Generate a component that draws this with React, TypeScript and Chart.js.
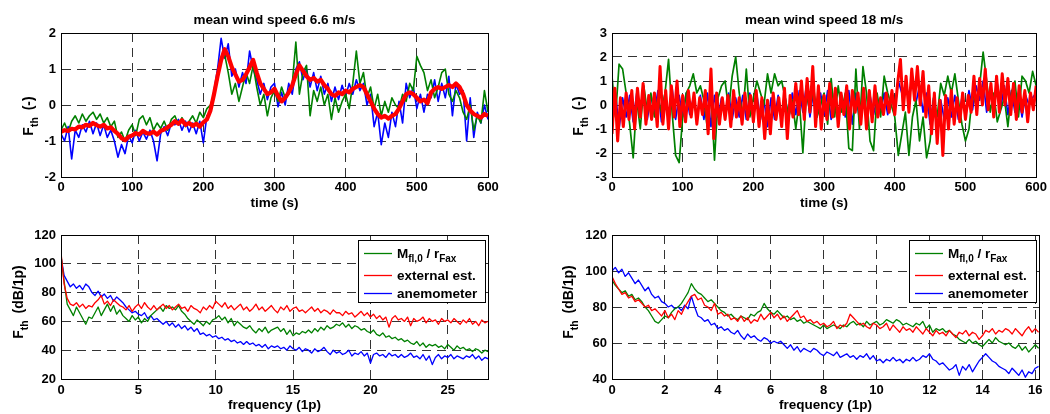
import React, { useEffect, useRef } from "react";
import { Chart, registerables } from "chart.js";

Chart.register(...registerables);

const FONT = "'Liberation Sans', Arial, Helvetica, sans-serif";
const GREEN = "#008000";
const RED = "#ff0000";
const BLUE = "#0000ff";
const GRID = "#333333";

// ---------------- data ----------------
// top-left: mean wind speed 6.6 m/s, samples every 5 s (0..600 s)
const LOW_TIME_STEP = 5;
const lowWindGreen = [
  -0.70, -0.50, -0.75, -0.45, -0.30, -0.50, -0.25, -0.45, -0.30, -0.20,
  -0.40, -0.25, -0.50, -0.35, -0.60, -0.45, -0.90, -0.75, -1.00, -0.70,
  -0.55, -0.85, -0.40, -0.30, -0.55, -0.35, -0.70, -0.50, -0.65, -0.45,
  -0.70, -0.40, -0.30, -0.55, -0.35, -0.60, -0.45, -0.30, -0.50, -0.20,
  -0.35, -0.10, 0.00, 0.30, 0.70, 1.30, 1.40, 0.90, 0.30, 0.60,
  0.10, 0.50, 0.90, 0.60, 1.10, 0.50, 0.00, 0.30, -0.30, 0.20,
  0.40, 0.10, 0.50, 0.20, 0.30, 0.60, 1.75, 0.30, 0.90, 1.10,
  -0.30, 0.40, 0.10, 0.50, 0.00, 0.30, -0.40, 0.20, -0.20, 0.10,
  0.30, -0.10, 0.60, 1.50, 0.60, 0.90, 0.20, 0.50, -0.10, 0.30,
  -0.30, 0.10, -0.20, 0.20, 0.00, -0.10, 0.30, 0.10, 0.60, 0.40,
  1.35, 1.10, 0.90, 0.40, 0.70, 0.20, 0.50, 0.90, 1.00, 0.30,
  0.10, 0.40, 0.20, -0.20, -0.40, 0.00, -0.70, -0.30, -0.50, 0.40,
  -0.20,
];
const lowWindRed = [
  -0.75, -0.70, -0.72, -0.66, -0.68, -0.60, -0.62, -0.55, -0.58, -0.50,
  -0.56, -0.60, -0.55, -0.65, -0.62, -0.72, -0.80, -0.92, -0.98, -0.88,
  -0.85, -0.78, -0.82, -0.72, -0.78, -0.80, -0.74, -0.82, -0.72, -0.68,
  -0.62, -0.55, -0.45, -0.52, -0.42, -0.55, -0.50, -0.58, -0.52, -0.60,
  -0.48, -0.40, -0.15, 0.30, 0.80, 1.25, 1.55, 1.35, 1.05, 0.85,
  0.65, 0.70, 0.85, 1.05, 1.25, 0.90, 0.60, 0.45, 0.30, 0.35,
  0.45, 0.25, 0.10, 0.20, 0.35, 0.55, 0.85, 1.10, 0.95, 0.80,
  0.70, 0.75, 0.65, 0.70, 0.55, 0.45, 0.30, 0.25, 0.35, 0.30,
  0.40, 0.35, 0.45, 0.50, 0.55, 0.50, 0.30, 0.10, -0.10, -0.25,
  -0.35, -0.30, -0.38, -0.30, -0.25, -0.10, 0.10, 0.30, 0.35, 0.30,
  0.20, 0.10, 0.15, 0.05, 0.35, 0.45, 0.50, 0.45, 0.50, 0.55,
  0.50, 0.60, 0.50, 0.30, 0.00, -0.15, -0.25, -0.30, -0.35, -0.25,
  -0.30,
];
const lowWindBlue = [
  -0.80, -1.00, -0.60, -1.50, -0.70, -0.90, -0.55, -0.75, -0.45, -0.80,
  -0.50, -0.85, -0.55, -0.90, -0.70, -1.00, -1.45, -1.10, -1.35, -0.85,
  -1.05, -0.70, -1.00, -0.75, -0.95, -0.70, -1.00, -1.55, -0.80, -0.60,
  -0.85, -0.50, -0.55, -0.40, -0.70, -0.45, -0.75, -0.50, -0.80, -0.45,
  -1.05, -0.30, -0.20, 0.40, 1.00, 1.85, 1.30, 1.70, 0.80, 1.00,
  0.50, 0.90, 0.60, 1.50, 1.00, 0.70, 0.30, 0.60, 0.15, 0.50,
  0.60, -0.05, 0.35, 0.00, 0.60, 0.30, 1.00, 1.20, 0.70, 1.00,
  0.50, 0.90, 0.40, 0.80, 0.30, 0.60, 0.10, 0.50, 0.15, 0.55,
  0.25, 0.60, 0.30, 0.70, 0.40, 0.60, 0.00, 0.30, -0.60, -0.20,
  -1.10, -0.50, -0.90, -0.20, -0.60, 0.10, -0.50, 0.60, 0.20, 0.50,
  -0.10, 0.30, -0.20, 0.30, 0.20, 0.70, 0.10, 0.60, 0.20, 0.80,
  -0.30, 0.60, 0.30, 0.40, -1.00, 0.20, -0.90, -0.20, -0.50, 0.00,
  -0.40,
];

// top-right: mean wind speed 18 m/s
const HIGH_TIME_STEP = 5;
const HIGH_TIME_STEP_RED = 4;
const highWindGreen = [
  1.2, -0.5, 1.7, 1.5, 0.5, -0.8, -2.2, 0.2, -1.0, 0.8,
  -0.3, 0.5, -0.5, 0.3, -0.3, 0.5, 1.9, -0.3, -2.1, -2.4,
  -0.5, 0.5, 0.8, 1.3, 0.5, 0.8, 0.2, -1.0, 0.5, -2.3,
  0.3, 0.8, 1.0, -0.2, 1.2, 2.0, 0.5, -0.5, 1.5, -0.5,
  0.3, 1.0, 0.5, 0.0, 1.3, 0.5, 1.3, 0.8, 1.0, 0.3,
  -0.5, 0.2, -1.0, 0.2, -2.0, 0.5, -0.3, 0.8, -0.5, 0.0,
  0.5, -0.8, 1.1, -0.5, 0.8, -0.3, 0.5, -1.8, -1.9, 1.5,
  -1.0, 1.6, 0.5, -1.5, -1.9, 0.5, -0.5, 1.2, 0.5, 0.0,
  -0.5, -2.1, -1.2, -0.3, -2.1, -0.5, 0.2, -1.5, -0.5, -2.2,
  -1.5, 0.3, -0.5, 0.9, 0.4, 1.2, 0.5, 1.3, 0.2, -0.8,
  -1.5, -1.0, 0.5, 0.0, 0.8, 2.2, 1.0, -0.3, 0.5, -0.7,
  -0.2, 0.3, -0.9, 0.5, 1.0, -0.5, 1.2, 1.0, 0.5, 1.4,
  0.8,
];
const highWindRed = [
  -1.2, 0.7, -1.5, 0.3, -0.9, 0.5, -0.6, 0.6, -1.0, 0.7,
  -0.5, 0.9, -0.8, 0.4, -0.6, 0.5, -0.9, 1.6, -0.8, 0.6,
  -1.0, 0.8, -0.5, 1.0, -0.9, 0.4, -0.7, 0.6, -0.5, 0.5,
  -0.8, 0.3, -0.4, 0.6, -1.2, 1.5, -1.4, 0.5, -0.8, 0.3,
  -0.6, 0.4, -0.9, 0.6, -0.5, 0.3, -0.8, 0.5, -0.6, 0.4,
  -0.7, 0.6, -0.9, 0.3, -1.4, 0.2, -1.2, 0.5, -0.6, 0.3,
  -0.9, 0.7, -1.4, 0.4, -0.5, 0.9, -0.4, 1.0, -0.6, 1.1,
  -0.3, 1.6, -0.9, 0.8, -1.0, 0.4, -0.6, 0.9, -0.5, 0.7,
  -0.9, 0.5, -0.4, 0.8, -1.0, 0.6, -0.3, 0.5, -0.8, 0.7,
  -1.0, 0.6, -0.7, 0.8, -0.5, 0.3, -0.4, 0.5, -0.3, 0.6,
  -0.4, 0.9, 1.9, -0.2, 1.2, -0.3, 1.5, 0.2, 1.6, 0.0,
  1.4, -0.5, 0.8, -1.2, 0.5, -1.6, 0.2, -2.1, 0.4, -1.0,
  0.6, -0.8, 0.3, -0.7, 0.5, -0.6, 0.4, -0.3, 1.2, -0.4,
  1.1, 0.0, 1.5, -0.2, 0.9, -0.5, 1.2, -0.3, 1.3, 0.0,
  1.1, -0.4, 0.9, -0.6, 0.8, -0.3, 0.6, -0.7, 0.5, -0.2,
  0.8,
];
const highWindBlue = [
  -0.6, 0.5, -1.0, 0.3, -0.5, 0.4, -0.7, 0.5, -0.4, 0.6,
  -0.6, 0.4, -0.3, 0.6, -0.7, 0.5, -0.5, 0.7, -0.6, 0.4,
  -0.5, 0.5, -0.4, 0.3, -0.5, 0.4, -0.6, 0.5, -0.9, 0.4,
  -0.5, 0.3, -0.4, 0.5, -0.6, 0.3, -0.5, 0.4, -0.6, 0.5,
  -0.5, 0.4, -0.6, 0.2, -0.9, 0.3, -0.6, 0.4, -0.5, 0.3,
  -0.6, 0.5, -0.4, 0.6, -0.3, 0.8, -0.5, 0.6, -0.5, 0.5,
  -0.4, 0.6, -0.6, 0.5, -0.7, 0.4, -0.5, 0.6, -0.8, 0.5,
  -0.6, 0.5, -0.7, 0.4, -0.4, 0.3, -0.3, 0.5, -0.4, 0.4,
  -0.2, 1.0, 0.5, 0.8, 0.3, 1.0, 0.1, 0.8, -0.3, 0.5,
  -0.8, 0.3, -1.1, 0.2, -0.6, 0.3, -0.5, 0.4, -0.6, 0.3,
  -0.4, 0.6, -0.2, 0.8, 0.2, 1.0, -0.3, 0.7, -0.2, 0.9,
  -0.1, 0.8, -0.4, 0.6, -0.3, 0.5, -0.5, 0.4, 0.0, 0.3,
  0.5,
];

// bottom-left: spectra at 6.6 m/s, every 0.2 (1p) from 0 to 27.6
const LOW_FREQ_STEP = 0.2;
const lowSpecGreen = [
  106, 88, 72, 68, 64, 70, 66, 62, 58, 63,
  62, 66, 70, 64, 68, 72, 67, 71, 65, 68,
  64, 62, 60, 64, 61, 63, 59, 62, 60, 64,
  66, 68, 70, 67, 71, 69, 70, 68, 71, 67,
  65, 62, 60, 58, 61, 59, 57, 60, 58, 61,
  62, 64, 61, 63, 59, 62, 57, 60, 58, 56,
  55, 57, 54, 52, 55, 53, 56, 52, 54, 55,
  56, 53, 55, 51, 54, 50, 52, 51, 53, 52,
  54, 52, 55, 53, 56, 54, 57, 55, 56, 58,
  57, 59, 56, 58, 55, 57, 56, 54, 55, 53,
  52, 54, 51, 50, 52, 49, 50, 48, 49, 47,
  48, 46, 47, 45, 44, 46, 43, 45, 42, 44,
  43, 44, 42, 43, 41, 44, 42, 40, 43, 41,
  42, 40, 41, 39, 41, 40, 38, 40, 39,
];
const lowSpecRed = [
  108, 86, 76, 72, 71, 73, 70, 72, 69, 71,
  70, 73, 75, 78, 72, 74, 71, 75, 73, 71,
  70, 68, 71, 67, 70, 72, 69, 73, 70, 68,
  71, 68, 70, 72, 69, 71, 68, 70, 72, 69,
  70, 67, 71, 69, 68, 66, 70, 68, 71, 69,
  74, 72, 70, 73, 69, 71, 68, 70, 72, 68,
  70, 67, 69, 72, 68, 70, 67, 69, 71, 68,
  66, 70, 68, 71, 67, 69, 70, 67, 68, 66,
  68, 70, 67, 69, 66, 68, 67, 65, 68, 66,
  66, 64, 67, 65, 66, 63, 65, 67, 64, 66,
  63, 65, 62, 64, 61, 63, 56, 62, 64, 61,
  62, 60, 63, 57, 62, 60, 61, 63, 59, 62,
  60, 61, 58, 62, 60, 61, 59, 62, 60, 58,
  61, 59, 62, 58, 60, 57, 61, 59, 60,
];
const lowSpecBlue = [
  105, 92, 88, 84, 86, 83, 85, 82, 86, 84,
  80, 78, 81, 77, 79, 76, 78, 74, 77, 75,
  73, 70, 68, 66, 67, 65, 64, 66, 62, 64,
  61, 62, 60, 58, 60, 57, 59, 56, 58, 55,
  57, 54, 56, 53, 55, 51, 52, 50, 51, 49,
  50, 48, 49, 47, 48, 46, 47, 45, 46, 44,
  46, 44, 45, 43, 44, 42, 44, 41, 43, 42,
  43, 41, 42, 40, 43, 41, 40, 42, 39, 41,
  40, 38, 41, 39, 40, 42, 39, 37, 40, 38,
  39, 37, 38, 40, 36, 38, 37, 39, 36, 38,
  31, 37, 38, 36, 37, 35, 38, 36, 37, 35,
  37, 35, 36, 38, 35, 36, 34, 37, 33, 36,
  30, 35, 37, 34, 36, 35, 37, 34, 36, 35,
  34, 36, 35, 37, 34, 36, 33, 35, 34,
];

// bottom-right: spectra at 18 m/s, every 0.125 (1p) from 0 to 16.125
const HIGH_FREQ_STEP = 0.125;
const highSpecGreen = [
  95, 92, 90, 88, 89, 86, 87, 84, 85, 83,
  80, 78, 75, 72, 71, 73, 75, 74, 77, 79,
  80, 82, 85, 88, 93, 90, 88, 87, 85, 83,
  84, 82, 80, 78, 77, 75, 76, 74, 73, 75,
  74, 73, 76, 75, 77, 78, 82, 79, 77, 76,
  78, 76, 74, 75, 73, 74, 72, 73, 71, 72,
  71, 70, 69, 68, 70, 68, 69, 70, 69, 68,
  70, 69, 71, 72, 70, 71, 69, 72, 70, 71,
  72, 70, 71, 73, 72, 71, 73, 72, 70, 71,
  70, 69, 71, 70, 72, 68, 70, 66, 68, 67,
  68, 66, 67, 65, 64, 62, 61, 60, 62, 60,
  61, 59, 58, 60, 62, 60, 63, 61, 60, 59,
  60, 58, 57, 59, 56, 58, 55, 57, 59, 57,
];
const highSpecRed = [
  97, 93, 90, 87, 88, 85, 86, 83, 84, 82,
  80, 81, 78, 79, 77, 75, 78, 74, 76, 73,
  78, 76, 80, 83, 86, 87, 84, 85, 81, 80,
  78, 82, 76, 77, 75, 76, 73, 74, 72, 75,
  72, 74, 71, 73, 72, 76, 73, 75, 77, 74,
  76, 73, 75, 72, 74, 76, 78, 74, 75, 72,
  73, 71, 72, 70, 71, 69, 70, 72, 68, 70,
  69, 71, 76, 74, 72, 70, 71, 69, 68, 71,
  70, 68, 69, 71, 67, 70, 68, 66, 69, 67,
  68, 66, 69, 67, 65, 68, 66, 64, 67, 65,
  66, 64, 67, 65, 63, 66, 65, 67, 64, 66,
  65, 62, 64, 67, 66, 68, 65, 67, 66, 68,
  67, 65, 68, 66, 64, 67, 69, 66, 68, 66,
];
const highSpecBlue = [
  100, 102, 99, 101, 97, 99, 96, 93, 95, 92,
  89, 91, 87, 85, 86, 83, 82, 80, 81, 79,
  80, 78, 81, 79, 86, 80, 75, 74, 72, 73,
  70, 71, 68, 69, 67, 68, 66, 65, 67, 64,
  62, 65, 63, 64, 62, 61, 63, 62, 60, 61,
  60, 61, 59, 57, 59, 56, 58, 55, 57, 56,
  55, 57, 56, 54, 53, 55, 54, 53, 55, 52,
  53, 54, 52, 53, 51, 53, 52, 54, 51, 53,
  50, 51, 49, 51, 50, 52, 50, 51, 49, 51,
  50, 52, 50, 51, 53, 52, 54, 51, 50, 48,
  49, 47, 45, 46, 48, 42, 47, 45, 48, 44,
  47, 50, 52, 54, 52, 50, 49, 47, 46, 45,
  43, 46, 44, 42, 45, 41, 44, 43, 46, 47,
];

// ticks
const TIME_TICKS = [0, 100, 200, 300, 400, 500, 600];
const LOW_FTH_TICKS = [-2, -1, 0, 1, 2];
const HIGH_FTH_TICKS = [-3, -2, -1, 0, 1, 2, 3];
const LOW_FREQ_TICKS = [0, 5, 10, 15, 20, 25];
const HIGH_FREQ_TICKS = [0, 2, 4, 6, 8, 10, 12, 14, 16];
const LOW_DB_TICKS = [20, 40, 60, 80, 100, 120];
const HIGH_DB_TICKS = [40, 60, 80, 100, 120];

const SERIES_NAMES = ["M_fl,0 / r_Fax", "external est.", "anemometer"];

// ---------------- helpers ----------------
type Part = { text: string; sub?: boolean };
type Series = { label: string; color: string; width: number; step: number; values: number[] };
type Rect = { left: number; top: number; width: number; height: number };
type Area = { left: number; top: number; right: number; bottom: number };
type PanelSpec = {
  box: Rect;
  area: Area;
  xMin: number; xMax: number; xTicks: number[];
  yMin: number; yMax: number; yTicks: number[];
  series: Series[];
  title?: string;
  xTitle: string;
  xTitleY: number;
  xTickPad: number;
  yTitle: Part[];
  yTitleBaseX: number;
  yTitleCenterY: number;
  legend: boolean;
};

const toPoints = (values: number[], step: number) =>
  values.map((y, i) => ({ x: Math.round(i * step * 1000) / 1000, y }));

const LEGEND_PARTS: Part[][] = [
  [{ text: "M" }, { text: "fl,0", sub: true }, { text: " / r" }, { text: "Fax", sub: true }],
  [{ text: SERIES_NAMES[1] }],
  [{ text: SERIES_NAMES[2] }],
];
const LEGEND_COLORS = [GREEN, RED, BLUE];

function partsWidth(ctx: CanvasRenderingContext2D, parts: Part[], size: number, subSize: number, subGap: number) {
  let w = 0;
  for (const p of parts) {
    ctx.font = `bold ${p.sub ? subSize : size}px ${FONT}`;
    w += ctx.measureText(p.text).width + (p.sub ? subGap : 0);
  }
  return w;
}

function drawParts(
  ctx: CanvasRenderingContext2D, parts: Part[], x: number, y: number,
  size: number, subSize: number, subShift: number, subGap: number,
) {
  let cx = x;
  for (const p of parts) {
    ctx.font = `bold ${p.sub ? subSize : size}px ${FONT}`;
    ctx.fillText(p.text, cx, p.sub ? y + subShift : y);
    cx += ctx.measureText(p.text).width + (p.sub ? subGap : 0);
  }
}

function Panel({ spec }: { spec: PanelSpec }) {
  const ref = useRef<HTMLCanvasElement | null>(null);
  useEffect(() => {
    const canvas = ref.current;
    if (!canvas) return;
    const { box, area } = spec;
    const ox = box.left;
    const oy = box.top;

    const decor = {
      id: "decor",
      afterDraw(chart: any) {
        const ctx: CanvasRenderingContext2D = chart.ctx;
        const a = chart.chartArea;
        ctx.save();
        ctx.setLineDash([]);
        // axes box
        ctx.strokeStyle = "#000";
        ctx.lineWidth = 1;
        const l = Math.round(a.left), t = Math.round(a.top), r = Math.round(a.right), b = Math.round(a.bottom);
        ctx.strokeRect(l + 0.5, t + 0.5, r - l, b - t);

        ctx.fillStyle = "#000";
        // title
        if (spec.title) {
          ctx.font = `bold 13.5px ${FONT}`;
          ctx.textAlign = "center";
          ctx.textBaseline = "alphabetic";
          ctx.fillText(spec.title, (a.left + a.right) / 2, 24 - oy);
        }
        // x title
        ctx.font = `bold 13.5px ${FONT}`;
        ctx.textAlign = "center";
        ctx.textBaseline = "middle";
        ctx.fillText(spec.xTitle, (a.left + a.right) / 2, spec.xTitleY - oy);

        // y title (rotated, with subscript)
        ctx.save();
        ctx.textAlign = "left";
        ctx.textBaseline = "alphabetic";
        ctx.translate(spec.yTitleBaseX - ox, spec.yTitleCenterY - oy);
        ctx.rotate(-Math.PI / 2);
        const yw = partsWidth(ctx, spec.yTitle, 14, 10.5, 3);
        drawParts(ctx, spec.yTitle, -yw / 2, 0, 14, 10.5, 4.5, 3);
        ctx.restore();

        // legend
        if (spec.legend) {
          const lw = 127;
          const lh = 62;
          const lx = Math.round(a.right) - 130;
          const ly = Math.round(a.top) + 5;
          ctx.fillStyle = "#fff";
          ctx.fillRect(lx, ly, lw, lh);
          ctx.strokeStyle = "#000";
          ctx.lineWidth = 1;
          ctx.strokeRect(lx + 0.5, ly + 0.5, lw, lh);
          const rows = [13, 35, 53];
          rows.forEach((dy, i) => {
            const yy = ly + dy;
            ctx.strokeStyle = LEGEND_COLORS[i];
            ctx.lineWidth = 1.3;
            ctx.beginPath();
            ctx.moveTo(lx + 6, yy + 0.5);
            ctx.lineTo(lx + 34, yy + 0.5);
            ctx.stroke();
            ctx.fillStyle = "#000";
            ctx.textAlign = "left";
            ctx.textBaseline = "alphabetic";
            drawParts(ctx, LEGEND_PARTS[i], lx + 39, yy + 5, 13.5, 10, 4, 0);
          });
        }
        ctx.restore();
      },
    };

    const tickFont = { family: FONT, size: 13, weight: "bold" as const };

    const chart = new Chart(canvas, {
      type: "line",
      data: {
        datasets: spec.series.map((s) => ({
          label: s.label,
          data: toPoints(s.values, s.step),
          borderColor: s.color,
          backgroundColor: s.color,
          borderWidth: s.width,
          pointRadius: 0,
          fill: false,
          tension: 0,
          borderJoinStyle: "round" as const,
        })),
      },
      options: {
        animation: false,
        responsive: false,
        devicePixelRatio: 1,
        events: [],
        layout: {
          padding: {
            left: 0,
            top: area.top - oy,
            right: box.left + box.width - area.right,
            bottom: 0,
          },
        },
        plugins: {
          legend: { display: false },
          title: { display: false },
          tooltip: { enabled: false },
        },
        scales: {
          x: {
            type: "linear",
            min: spec.xMin,
            max: spec.xMax,
            afterBuildTicks: (sc: any) => {
              sc.ticks = spec.xTicks.map((v) => ({ value: v }));
            },
            afterFit: (sc: any) => {
              sc.height = box.top + box.height - area.bottom;
            },
            ticks: {
              color: "#000",
              font: tickFont,
              padding: spec.xTickPad,
              maxRotation: 0,
              autoSkip: false,
            },
            grid: { color: GRID, lineWidth: 1, drawTicks: false },
            border: { display: true, color: "#000", width: 1, dash: [9, 6] },
          },
          y: {
            type: "linear",
            min: spec.yMin,
            max: spec.yMax,
            afterBuildTicks: (sc: any) => {
              sc.ticks = spec.yTicks.map((v) => ({ value: v }));
            },
            afterFit: (sc: any) => {
              sc.width = area.left - ox;
            },
            ticks: {
              color: "#000",
              font: tickFont,
              padding: 5,
              autoSkip: false,
            },
            grid: { color: GRID, lineWidth: 1, drawTicks: false },
            border: { display: true, color: "#000", width: 1, dash: [9, 6] },
          },
        },
      },
      plugins: [decor],
    } as any);
    return () => chart.destroy();
  }, [spec]);

  return (
    <canvas
      ref={ref}
      width={spec.box.width}
      height={spec.box.height}
      style={{
        position: "absolute",
        left: spec.box.left,
        top: spec.box.top,
        width: spec.box.width,
        height: spec.box.height,
      }}
    />
  );
}

const Y_TITLE_TOP: Part[] = [{ text: "F" }, { text: "th", sub: true }, { text: " (-)" }];
const Y_TITLE_BOTTOM: Part[] = [{ text: "F" }, { text: "th", sub: true }, { text: " (dB/1p)" }];

const PANELS: PanelSpec[] = [
  {
    box: { left: 0, top: 0, width: 530, height: 215 },
    area: { left: 61, top: 33, right: 488, bottom: 177 },
    xMin: 0, xMax: 600, xTicks: TIME_TICKS,
    yMin: -2, yMax: 2, yTicks: LOW_FTH_TICKS,
    series: [
      { label: SERIES_NAMES[1], color: RED, width: 4.2, step: LOW_TIME_STEP, values: lowWindRed },
      { label: SERIES_NAMES[0], color: GREEN, width: 1.6, step: LOW_TIME_STEP, values: lowWindGreen },
      { label: SERIES_NAMES[2], color: BLUE, width: 1.6, step: LOW_TIME_STEP, values: lowWindBlue },
    ],
    title: "mean wind speed 6.6 m/s",
    xTitle: "time (s)",
    xTitleY: 203,
    xTickPad: 3,
    yTitle: Y_TITLE_TOP,
    yTitleBaseX: 33,
    yTitleCenterY: 116,
    legend: false,
  },
  {
    box: { left: 535, top: 0, width: 515, height: 215 },
    area: { left: 612, top: 33, right: 1039, bottom: 177 },
    xMin: 0, xMax: 600, xTicks: TIME_TICKS,
    yMin: -3, yMax: 3, yTicks: HIGH_FTH_TICKS,
    series: [
      { label: SERIES_NAMES[1], color: RED, width: 3, step: HIGH_TIME_STEP_RED, values: highWindRed },
      { label: SERIES_NAMES[0], color: GREEN, width: 1.7, step: HIGH_TIME_STEP, values: highWindGreen },
      { label: SERIES_NAMES[2], color: BLUE, width: 1.7, step: HIGH_TIME_STEP, values: highWindBlue },
    ],
    title: "mean wind speed 18 m/s",
    xTitle: "time (s)",
    xTitleY: 203,
    xTickPad: 3,
    yTitle: Y_TITLE_TOP,
    yTitleBaseX: 583,
    yTitleCenterY: 116,
    legend: false,
  },
  {
    box: { left: 0, top: 215, width: 530, height: 199 },
    area: { left: 61, top: 235, right: 488, bottom: 379 },
    xMin: 0, xMax: 27.6, xTicks: LOW_FREQ_TICKS,
    yMin: 20, yMax: 120, yTicks: LOW_DB_TICKS,
    series: [
      { label: SERIES_NAMES[1], color: RED, width: 1.3, step: LOW_FREQ_STEP, values: lowSpecRed },
      { label: SERIES_NAMES[0], color: GREEN, width: 1.3, step: LOW_FREQ_STEP, values: lowSpecGreen },
      { label: SERIES_NAMES[2], color: BLUE, width: 1.3, step: LOW_FREQ_STEP, values: lowSpecBlue },
    ],
    xTitle: "frequency (1p)",
    xTitleY: 405,
    xTickPad: 4,
    yTitle: Y_TITLE_BOTTOM,
    yTitleBaseX: 23,
    yTitleCenterY: 302,
    legend: true,
  },
  {
    box: { left: 535, top: 215, width: 515, height: 199 },
    area: { left: 612, top: 235, right: 1039, bottom: 379 },
    xMin: 0, xMax: 16.14, xTicks: HIGH_FREQ_TICKS,
    yMin: 40, yMax: 120, yTicks: HIGH_DB_TICKS,
    series: [
      { label: SERIES_NAMES[1], color: RED, width: 1.3, step: HIGH_FREQ_STEP, values: highSpecRed },
      { label: SERIES_NAMES[0], color: GREEN, width: 1.3, step: HIGH_FREQ_STEP, values: highSpecGreen },
      { label: SERIES_NAMES[2], color: BLUE, width: 1.3, step: HIGH_FREQ_STEP, values: highSpecBlue },
    ],
    xTitle: "frequency (1p)",
    xTitleY: 405,
    xTickPad: 4,
    yTitle: Y_TITLE_BOTTOM,
    yTitleBaseX: 573,
    yTitleCenterY: 302,
    legend: true,
  },
];

export default function App() {
  return (
    <div
      style={{
        position: "absolute",
        left: 0,
        top: 0,
        width: 1050,
        height: 414,
        background: "#fff",
        overflow: "hidden",
      }}
    >
      {PANELS.map((p, i) => (
        <Panel key={i} spec={p} />
      ))}
    </div>
  );
}
